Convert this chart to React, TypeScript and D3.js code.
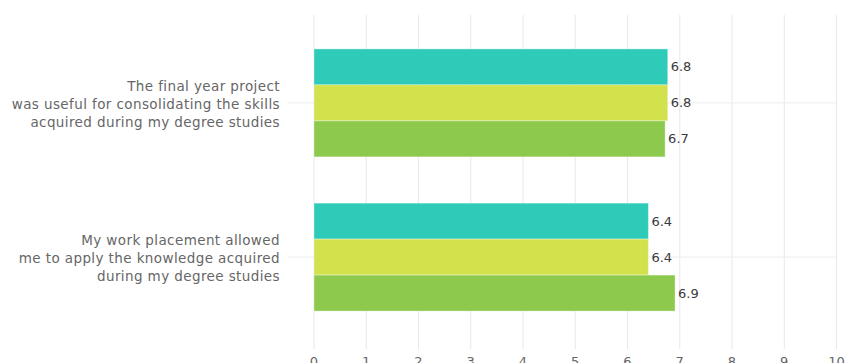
import React from "react";
import * as d3 from "d3";

const categories = [
  ["The final year project", "was useful for consolidating the skills", "acquired during my degree studies"],
  ["My work placement allowed", "me to apply the knowledge acquired", "during my degree studies"],
];
const seriesNames = ["A", "B", "C"];
const seriesColors = ["#2ecbb9", "#d2e24c", "#8dc94d"];
const valuesA = [6.77, 6.4];
const valuesB = [6.77, 6.4];
const valuesC = [6.72, 6.91];
const xTicks = [0, 1, 2, 3, 4, 5, 6, 7, 8, 9, 10];

const W = 851;
const H = 363;
const FONT = "'DejaVu Sans', sans-serif";

export default function App() {
  const series = [valuesA, valuesB, valuesC];
  const x = d3.scaleLinear().domain([0, 10]).range([314, 836.5]);
  const y = d3
    .scaleBand<number>()
    .domain(categories.map((_, i) => i))
    .range([15, 345])
    .paddingInner(0.3)
    .paddingOuter(0.22);
  const inner = d3
    .scaleBand<number>()
    .domain(seriesNames.map((_, i) => i))
    .range([0, y.bandwidth()]);

  return (
    <svg
      width={W}
      height={H}
      style={{ position: "absolute", left: 0, top: 0, fontFamily: FONT }}
    >
      {xTicks.map((t) => (
        <line key={"g" + t} x1={x(t)} x2={x(t)} y1={15} y2={349} stroke="#e8e8e8" strokeWidth={1} />
      ))}
      {categories.map((c, i) => {
        const cy = (y(i) as number) + y.bandwidth() / 2;
        return (
          <line key={"h" + i} x1={288} x2={x(10)} y1={cy} y2={cy} stroke="#ececec" strokeWidth={1} />
        );
      })}
      {categories.map((c, i) =>
        series.map((vals, s) => {
          const by = (y(i) as number) + (inner(s) as number);
          const v = vals[i];
          return (
            <g key={"b" + i + "-" + s}>
              <rect
                x={x(0)}
                y={by}
                width={x(v) - x(0)}
                height={inner.bandwidth()}
                fill={seriesColors[s]}
                stroke="#ffffff"
                strokeOpacity={0.35}
                strokeWidth={1}
              />
              <text
                x={x(v) + 3}
                y={by + inner.bandwidth() / 2}
                dy="0.35em"
                fontSize={13}
                fill="#3a3a3a"
              >
                {d3.format(".1f")(v)}
              </text>
            </g>
          );
        })
      )}
      {categories.map((lines, i) => {
        const cy = (y(i) as number) + y.bandwidth() / 2 + 1.5;
        return (
          <text key={"c" + i} textAnchor="end" fontSize={13.5} letterSpacing={0.4} fill="#666">
            {lines.map((l, k) => (
              <tspan key={k} x={280} y={cy + (k - 1) * 18} dy="0.35em">
                {l}
              </tspan>
            ))}
          </text>
        );
      })}
      {xTicks.map((t) => (
        <text key={"t" + t} x={x(t)} y={366} textAnchor="middle" fontSize={13} fill="#666">
          {t}
        </text>
      ))}
    </svg>
  );
}
